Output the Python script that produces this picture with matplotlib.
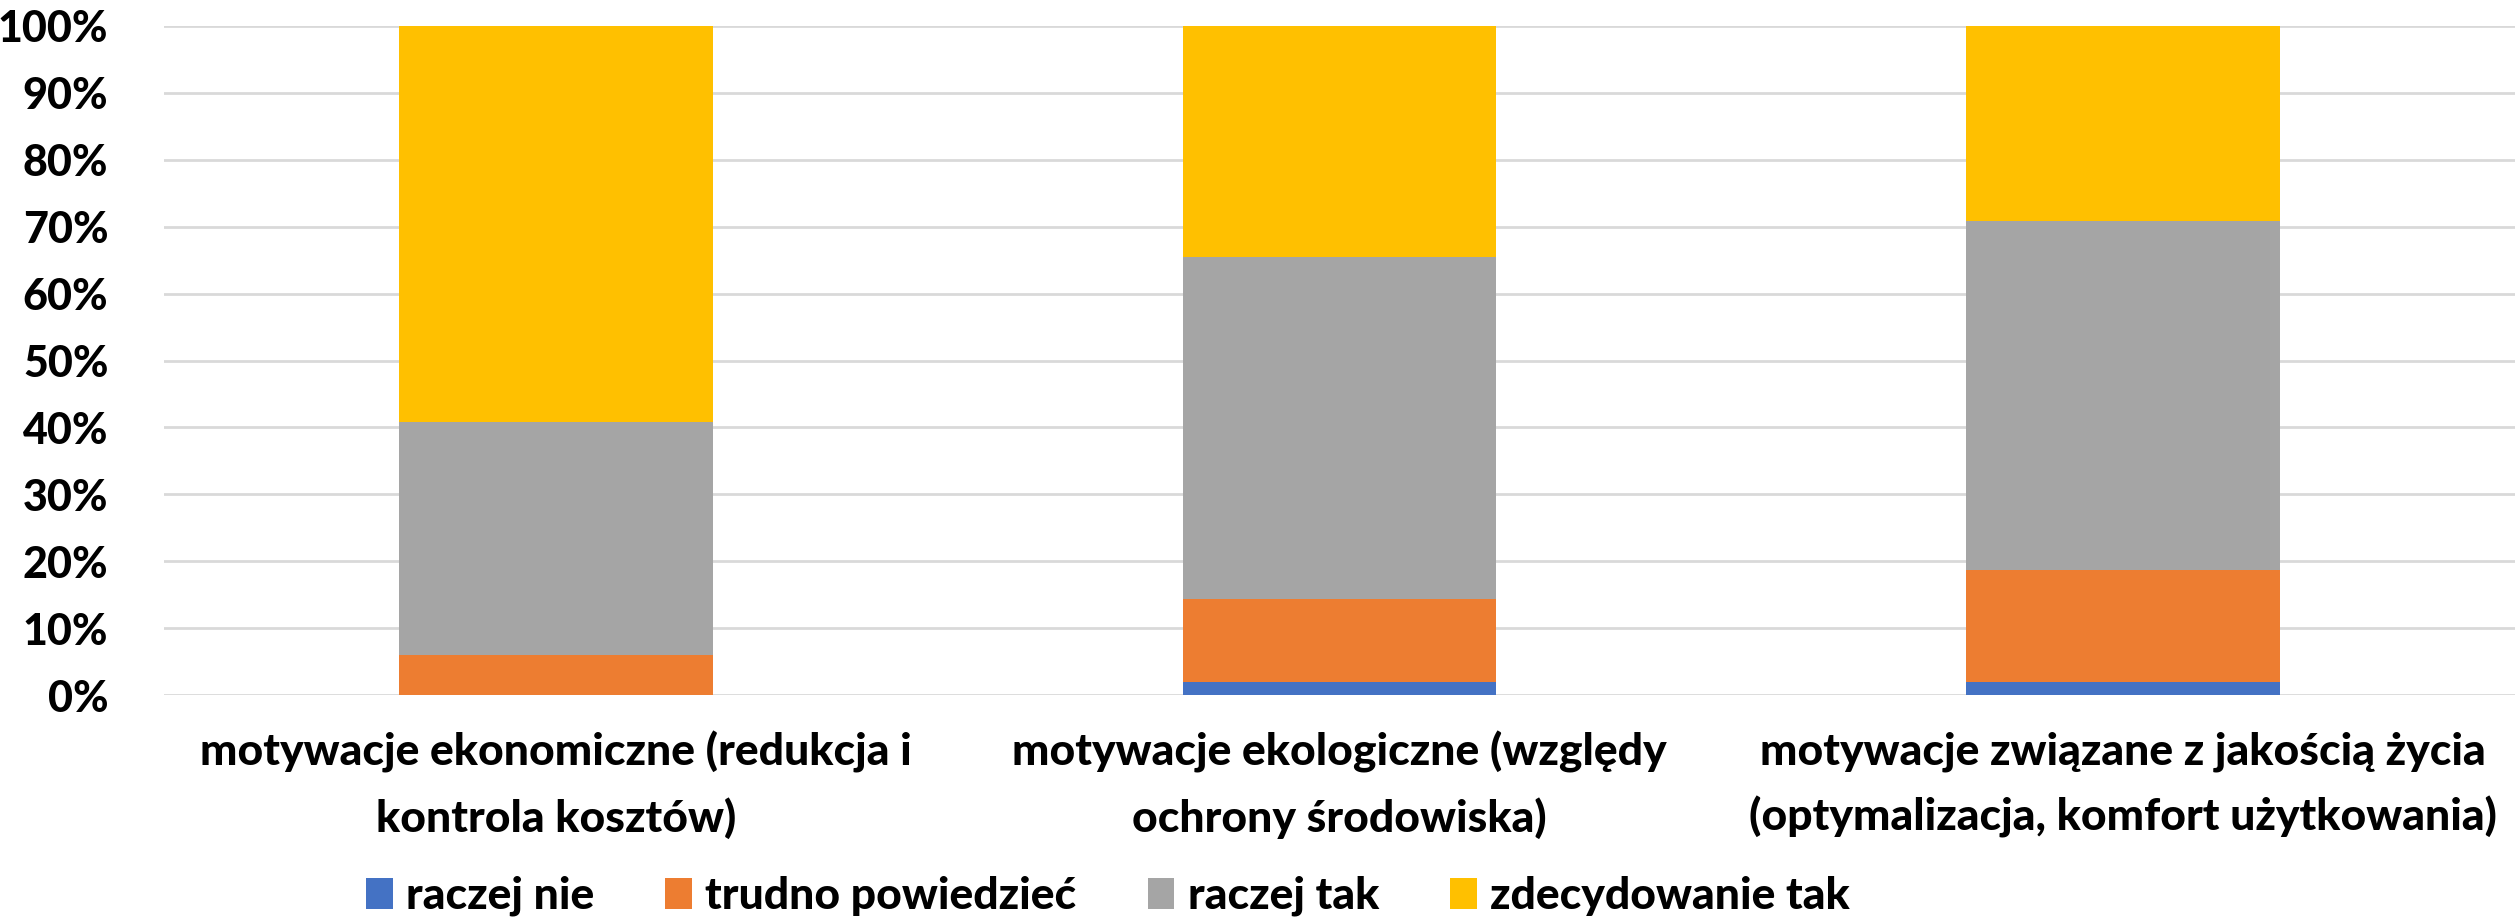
import matplotlib
matplotlib.use("Agg")
import matplotlib.pyplot as plt
import numpy as np
from matplotlib.ticker import PercentFormatter

categories = [
    "motywacje ekonomiczne (redukcja i\nkontrola kosztów)",
    "motywacje ekologiczne (względy\nochrony środowiska)",
    "motywacje związane z jakością życia\n(optymalizacja, komfort użytkowania)",
]
series_names = ["raczej nie", "trudno powiedzieć", "raczej tak", "zdecydowanie tak"]
raczej_nie = [0.0, 2.0, 2.0]
trudno_powiedziec = [6.0, 12.3, 16.7]
raczej_tak = [34.8, 51.2, 52.1]
zdecydowanie_tak = [59.2, 34.5, 29.2]
colors = ["#4472C4", "#ED7D31", "#A5A5A5", "#FFC000"]

plt.rcParams["font.family"] = ["Lato", "DejaVu Sans"]
W = 900  # heaviest available Lato weight

fig = plt.figure(figsize=(25.18, 9.23), dpi=100)
ax = fig.add_axes([164 / 2518, 228 / 923, (2515 - 164) / 2518, (695 - 26) / 923])

x = np.arange(len(categories))
bottom = np.zeros(len(categories))
for name, vals, c in zip(series_names,
                         [raczej_nie, trudno_powiedziec, raczej_tak, zdecydowanie_tak],
                         colors):
    ax.bar(x, vals, 0.4, bottom=bottom, color=c, label=name, zorder=3)
    bottom += np.array(vals)

ax.set_xlim(-0.5, 2.5)
ax.set_ylim(0, 100)
ax.set_yticks(np.arange(0, 101, 10))
ax.yaxis.set_major_formatter(PercentFormatter(decimals=0))
ax.grid(axis="y", color="#D9D9D9", linewidth=2, zorder=0)
for s in ax.spines.values():
    s.set_visible(False)
ax.tick_params(axis="y", length=0, pad=40, labelsize=31)
ax.tick_params(axis="x", length=0, pad=26, labelsize=32)
ax.set_xticks(x)
ax.set_xticklabels(categories, fontweight=W, linespacing=1.7)
for lbl in ax.get_yticklabels():
    lbl.set_fontweight(W)

fig.legend(loc="center", bbox_to_anchor=(1108 / 2518, 1 - 896 / 923), ncol=4,
           frameon=False, handlelength=0.6, handleheight=0.7,
           handletextpad=0.3, columnspacing=1.6, prop={"weight": W, "size": 32})

fig.savefig("out.png", dpi=100)
